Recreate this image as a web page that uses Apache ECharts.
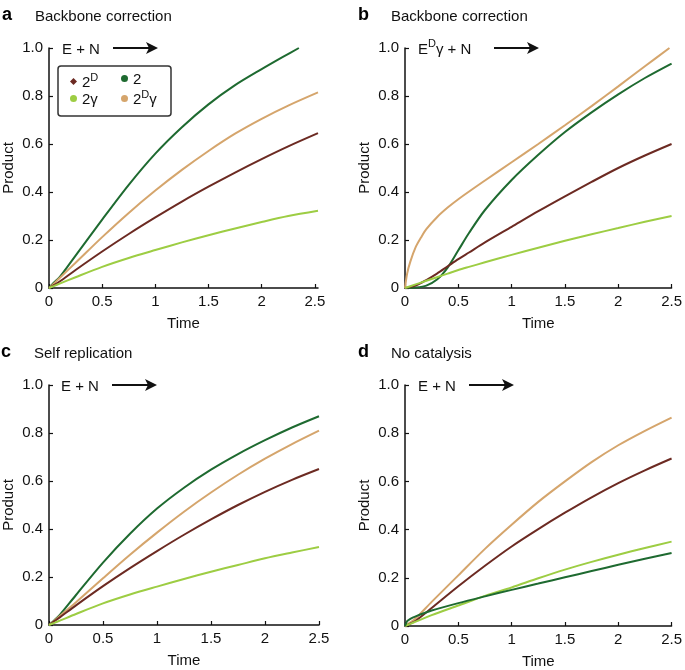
<!DOCTYPE html>
<html><head><meta charset="utf-8">
<script src="https://cdn.jsdelivr.net/npm/echarts@6/dist/echarts.min.js"></script>
<style>html,body{margin:0;padding:0;background:#fff}#c{width:685px;height:670px}</style>
</head><body><div id="c"></div>
<script>
// ---------- data ----------
const xTickValues = [0, 0.5, 1, 1.5, 2, 2.5];
const seriesNames = ['2D', '2', '2γ', '2Dγ'];
const panelLetters = ['a', 'b', 'c', 'd'];
const panelTitles = ['Backbone correction', 'Backbone correction', 'Self replication', 'No catalysis'];
const reactantLabels = ['E + N', 'E{s|D}γ + N', 'E + N', 'E + N'];

// panel a
const tA      = [0, 0.05, 0.1, 0.25, 0.5, 0.75, 1, 1.25, 1.5, 1.75, 2, 2.25, 2.53];
const aBrown  = [0, 0.013, 0.027, 0.075, 0.152, 0.225, 0.294, 0.36, 0.422, 0.481, 0.537, 0.59, 0.645];
const aTan    = [0, 0.02, 0.042, 0.105, 0.212, 0.313, 0.406, 0.492, 0.571, 0.643, 0.705, 0.76, 0.815];
const aLight  = [0, 0.009, 0.018, 0.045, 0.088, 0.125, 0.158, 0.19, 0.22, 0.248, 0.275, 0.30, 0.322];
const tAG     = [0, 0.04, 0.1, 0.25, 0.5, 0.75, 1, 1.25, 1.5, 1.75, 2, 2.2, 2.35];
const aGreen  = [0, 0.02, 0.045, 0.135, 0.285, 0.43, 0.56, 0.67, 0.765, 0.845, 0.912, 0.963, 1.0];

// panel b
const tB      = [0, 0.1, 0.2, 0.3, 0.4, 0.5, 0.6, 0.75, 1, 1.25, 1.5, 1.75, 2, 2.25, 2.5];
const bBrown  = [0, 0.01, 0.033, 0.06, 0.09, 0.12, 0.148, 0.19, 0.255, 0.32, 0.382, 0.442, 0.50, 0.552, 0.60];
const bGreen  = [0, 0.002, 0.01, 0.035, 0.085, 0.157, 0.229, 0.325, 0.45, 0.555, 0.65, 0.732, 0.807, 0.875, 0.935];
const bLight  = [0, 0.015, 0.03, 0.045, 0.06, 0.075, 0.088, 0.107, 0.138, 0.168, 0.197, 0.224, 0.25, 0.276, 0.30];
const tBT     = [0, 0.02, 0.05, 0.1, 0.15, 0.2, 0.3, 0.4, 0.5, 0.75, 1, 1.25, 1.5, 1.75, 2, 2.25, 2.48];
const bTan    = [0, 0.06, 0.11, 0.17, 0.21, 0.245, 0.295, 0.335, 0.37, 0.448, 0.524, 0.60, 0.678, 0.758, 0.84, 0.924, 1.0];

// panel c
const tC      = [0, 0.05, 0.1, 0.25, 0.5, 0.75, 1, 1.25, 1.5, 1.75, 2, 2.25, 2.5];
const cGreen  = [0, 0.02, 0.042, 0.125, 0.26, 0.38, 0.485, 0.572, 0.647, 0.712, 0.77, 0.823, 0.87];
const cTan    = [0, 0.018, 0.037, 0.095, 0.195, 0.293, 0.385, 0.472, 0.552, 0.626, 0.693, 0.754, 0.81];
const cBrown  = [0, 0.016, 0.032, 0.082, 0.162, 0.237, 0.308, 0.376, 0.44, 0.50, 0.555, 0.605, 0.65];
const cLight  = [0, 0.009, 0.018, 0.046, 0.09, 0.127, 0.16, 0.192, 0.222, 0.25, 0.278, 0.302, 0.325];

// panel d
const tD      = [0, 0.05, 0.1, 0.25, 0.5, 0.75, 1, 1.25, 1.5, 1.75, 2, 2.25, 2.5];
const dTan    = [0, 0.015, 0.032, 0.10, 0.21, 0.32, 0.42, 0.515, 0.60, 0.68, 0.75, 0.81, 0.865];
const dBrown  = [0, 0.01, 0.022, 0.075, 0.165, 0.25, 0.33, 0.402, 0.47, 0.534, 0.593, 0.646, 0.695];
const dLight  = [0, 0.009, 0.018, 0.045, 0.085, 0.125, 0.16, 0.198, 0.234, 0.266, 0.296, 0.324, 0.35];
const tDG     = [0, 0.02, 0.05, 0.1, 0.25, 0.5, 0.75, 1, 1.25, 1.5, 1.75, 2, 2.25, 2.5];
const dGreen  = [0, 0.02, 0.03, 0.04, 0.064, 0.095, 0.123, 0.15, 0.176, 0.202, 0.228, 0.254, 0.279, 0.303];

const xMax = [2.53, 2.5, 2.5, 2.5];

// ---------- styling ----------
const FONT = '"Liberation Sans", Arial, Helvetica, sans-serif';
const colors = { '2D': '#6c2a22', '2': '#1e6a30', '2γ': '#9dcd43', '2Dγ': '#d5a56c' };
const grids = [
  { left: 49, top: 48, width: 269, height: 240 },
  { left: 405, top: 48, width: 269, height: 240 },
  { left: 48, top: 385, width: 271, height: 240 },
  { left: 405, top: 385, width: 269, height: 241 }
];
const panelData = [
  [['2', tAG, aGreen], ['2Dγ', tA, aTan], ['2D', tA, aBrown], ['2γ', tA, aLight]],
  [['2Dγ', tBT, bTan], ['2', tB, bGreen], ['2D', tB, bBrown], ['2γ', tB, bLight]],
  [['2', tC, cGreen], ['2Dγ', tC, cTan], ['2D', tC, cBrown], ['2γ', tC, cLight]],
  [['2Dγ', tD, dTan], ['2D', tD, dBrown], ['2γ', tD, dLight], ['2', tDG, dGreen]]
];

const xAxes = [], yAxes = [], series = [], graphics = [];
grids.forEach((g, i) => {
  xAxes.push({
    type: 'value', gridIndex: i, min: 0, max: xMax[i],
    name: 'Time', nameLocation: 'middle', nameGap: 28,
    nameTextStyle: { fontFamily: FONT, fontSize: 15, color: '#111' },
    axisLine: { lineStyle: { color: '#111', width: 1.5 } },
    axisTick: { inside: true, length: 4, customValues: xTickValues, lineStyle: { color: '#111', width: 1.2 } },
    axisLabel: { customValues: xTickValues, margin: 6, fontFamily: FONT, fontSize: 15, color: '#111',
      formatter: v => String(v) },
    splitLine: { show: false }
  });
  yAxes.push({
    type: 'value', gridIndex: i, min: 0, max: 1, interval: 0.2,
    name: 'Product', nameLocation: 'middle', nameGap: 33, nameRotate: 90,
    nameTextStyle: { fontFamily: FONT, fontSize: 15, color: '#111' },
    axisLine: { lineStyle: { color: '#111', width: 1.5 } },
    axisTick: { inside: true, length: 4, lineStyle: { color: '#111', width: 1.2 } },
    axisLabel: { margin: 6, fontFamily: FONT, fontSize: 15, color: '#111',
      formatter: v => v === 0 ? '0' : v.toFixed(1) },
    splitLine: { show: false }
  });
  panelData[i].forEach(([name, t, v]) => {
    series.push({
      type: 'line', name, xAxisIndex: i, yAxisIndex: i,
      data: t.map((x, k) => [x, v[k]]),
      showSymbol: false, smooth: 0.3, clip: true,
      lineStyle: { color: colors[name], width: 2 },
      itemStyle: { color: colors[name] },
      emphasis: { disabled: true }, silent: true
    });
  });
  // panel letter and title
  graphics.push({ type: 'text', x: g.left - 47, y: g.top - 33,
    style: { text: panelLetters[i], font: 'bold 18px ' + FONT, fill: '#000', textVerticalAlign: 'middle', verticalAlign: 'middle' } });
  graphics.push({ type: 'text', x: g.left - 14, y: g.top - 31,
    style: { text: panelTitles[i], font: '15px ' + FONT, fill: '#111', textVerticalAlign: 'middle', verticalAlign: 'middle' } });
  // reactant label with arrow
  const lx = g.left + 13, ly = g.top;
  graphics.push({ type: 'text', x: lx, y: ly,
    style: { text: '{n|' + reactantLabels[i].replace('{s|D}', '}{s|D}{n|') + '}', fill: '#111',
      textVerticalAlign: 'middle', verticalAlign: 'middle',
      rich: { n: { fontFamily: FONT, fontSize: 15, verticalAlign: 'bottom', lineHeight: 18 },
              s: { fontFamily: FONT, fontSize: 11, verticalAlign: 'bottom', lineHeight: 18, padding: [0, 0, 8, 0] } } } });
  const ax0 = i === 1 ? g.left + 89 : g.left + 64;
  const ax1 = ax0 + 45;
  graphics.push({ type: 'line', shape: { x1: ax0, y1: ly, x2: ax1 - 6, y2: ly }, style: { stroke: '#111', lineWidth: 2 } });
  graphics.push({ type: 'polygon', shape: { points: [[ax1, ly], [ax1 - 12, ly - 6], [ax1 - 9, ly], [ax1 - 12, ly + 6]] }, style: { fill: '#111' } });
});

// legend box
graphics.push({ type: 'rect', shape: { x: 58, y: 66, width: 113, height: 50, r: 3 }, style: { fill: '#fff', stroke: '#333', lineWidth: 1.5 }, z: 5 });

const legendRich = {
  n: { fontFamily: FONT, fontSize: 15, color: '#111', verticalAlign: 'bottom', lineHeight: 17 },
  s: { fontFamily: FONT, fontSize: 11, color: '#111', verticalAlign: 'bottom', lineHeight: 17, padding: [0, 0, 7, 0] }
};
const legendFormatter = name => name.replace('2D', '{n|2}{s|D}').replace(/^2$/, '{n|2}').replace(/^2γ$/, '{n|2γ}').replace('}γ', '}{n|γ}');
const legendCommon = {
  orient: 'vertical', itemWidth: 7, itemHeight: 7, itemGap: 2, selectedMode: false, z: 10,
  textStyle: { rich: legendRich, fontFamily: FONT, fontSize: 15 }, formatter: legendFormatter, padding: 0
};

const chart = echarts.init(document.getElementById('c'), null, { renderer: 'canvas' });
chart.setOption({
  backgroundColor: '#fff',
  animation: false,
  grid: grids.map(g => Object.assign({ containLabel: false }, g)),
  xAxis: xAxes,
  yAxis: yAxes,
  legend: [
    Object.assign({ left: 70, top: 72, data: [{ name: '2D', icon: 'diamond' }, { name: '2γ', icon: 'circle' }] }, legendCommon),
    Object.assign({ left: 121, top: 72, data: [{ name: '2', icon: 'circle' }, { name: '2Dγ', icon: 'circle' }] }, legendCommon)
  ],
  graphic: graphics,
  series
});
</script>
</body></html>
